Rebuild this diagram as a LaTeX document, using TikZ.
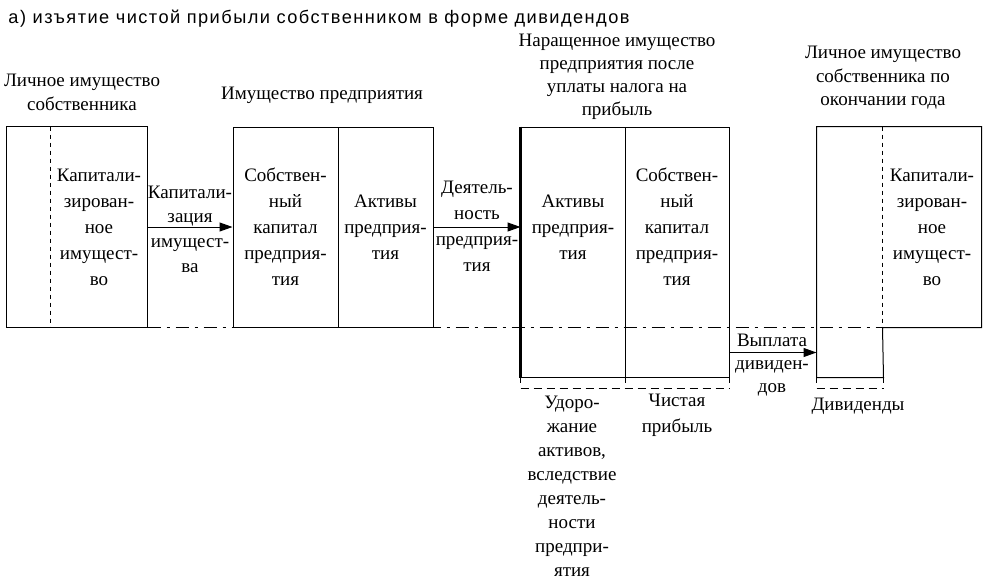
\documentclass[tikz,border=0pt]{standalone}
\usepackage{fontspec}
\setmainfont{Liberation Serif}
\newfontfamily\titlefont[LetterSpace=8]{Liberation Sans}
\usetikzlibrary{arrows.meta}

\tikzset{
  cell/.style={minimum height=200pt, inner sep=0pt, align=center},
  txt/.style={align=center, inner sep=0pt, font=\fontsize{19}{26}\selectfont},
  heading/.style={align=center, inner sep=0pt, font=\fontsize{19}{23.5}\selectfont},
  arr/.style={-{Triangle[length=13pt,width=9pt]}},
  dashdot/.style={dash pattern=on 13pt off 6pt on 3pt off 6pt},
  dash2/.style={dash pattern=on 8pt off 5pt},
}

\begin{document}
\begin{tikzpicture}[x=1pt,y=-1pt,line width=1pt]
\useasboundingbox (0,0) rectangle (986,582);
\node[anchor=base west, inner sep=0pt, font=\titlefont\fontsize{18.2}{20}\selectfont] (title) at (8,23)
  {а) изъятие чистой прибыли собственником в форме дивидендов};

% owner before
\node[cell, minimum width=44pt] (ownA) at (29,227) {};
\node[cell, minimum width=96pt, txt] (ownB) at (99,227) {Капитали-\\зирован-\\ное\\имущест-\\во};
\draw (ownA.north west) rectangle (ownB.south east);
\draw[dash pattern=on 4pt off 4pt] (ownB.north west) -- (ownB.south west);
\node[heading, font=\fontsize{19}{24}\selectfont] (ownT) at (82,92) {Личное имущество\\собственника};

% enterprise
\node[cell, draw, minimum width=105pt, txt] (entL) at (285.5,227) {Собствен-\\ный\\капитал\\предприя-\\тия};
\node[cell, draw, minimum width=95pt, txt] (entR) at (385.5,227) {Активы\\предприя-\\тия};
\node[heading] (entT) at (322,95) {Имущество предприятия};

% after tax
\node[cell, draw, minimum width=104pt, minimum height=250pt] (accL) at (573,252) {};
\node[cell, draw, minimum width=104pt, minimum height=250pt] (accR) at (677,252) {};
\draw[line width=2.4pt] (accL.north west) -- (accL.south west);
\node[txt] (accLt) at (accL |- entR) {Активы\\предприя-\\тия};
\node[txt] (accRt) at (accR |- entL) {Собствен-\\ный\\капитал\\предприя-\\тия};
\node[heading, font=\fontsize{19}{23}\selectfont] (accT) at (617,77) {Наращенное имущество\\предприятия после\\уплаты налога на\\прибыль};

% owner after
\node[cell, minimum width=66pt, minimum height=250pt] (divA) at (850,252) {};
\node[cell, minimum width=98pt, txt] (capB) at (932,227) {Капитали-\\зирован-\\ное\\имущест-\\во};
\draw (divA.south west) -- (divA.north west) -- (capB.north east) -- (capB.south east)
  -- (capB.south west) -- (divA.south east) -- cycle;
\draw[dash pattern=on 4pt off 4pt] (capB.north west) -- (capB.south west);
\node[heading] (capT) at (883,78) {Личное имущество\\собственника по\\окончании года};

% level line
\draw[dashdot] (ownB.south east) -- (capB.south west);

% arrows
\draw[arr] (ownB.east) -- (entL.west);
\node[txt, font=\fontsize{19}{24.7}\selectfont] (capit) at (190,229) {Капитали-\\зация\\имущест-\\ва};
\draw[arr] (entR.east) -- (entR.east -| accL.west);
\node[txt] (activ) at (477,226.5) {Деятель-\\ность\\предприя-\\тия};
\draw[arr] ([yshift=25pt]accR.south east) -- ([yshift=25pt]divA.south west);
\node[txt, font=\fontsize{19}{23}\selectfont] (pay) at (772,365) {Выплата\\дивиден-\\дов};

% brackets below
\foreach \n in {accL.south west, accL.south east, accR.south east, divA.south west, divA.south east}
  \draw (\n) -- ++(0,5);
\draw[dash2] ([yshift=-11pt]accL.south west) -- ([yshift=-11pt]accR.south east);
\draw[dash2] ([yshift=-11pt]divA.south west) -- ([yshift=-11pt]divA.south east);
\node[txt, font=\fontsize{19}{24}\selectfont] (rise) at (572,486) {Удоро-\\жание\\активов,\\вследствие\\деятель-\\ности\\предпри-\\ятия};
\node[txt] (net) at (677,415) {Чистая\\прибыль};
\node[txt] (divs) at (858,406) {Дивиденды};
\end{tikzpicture}
\end{document}
